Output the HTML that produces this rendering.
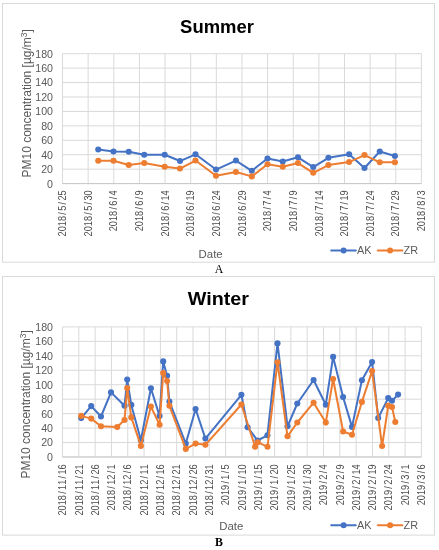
<!DOCTYPE html>
<html lang="en"><head><meta charset="utf-8"><title>PM10 concentration – Summer and Winter</title>
<style>html,body{margin:0;padding:0;background:#fff}svg{display:block}</style></head><body>
<svg width="439" height="550" viewBox="0 0 439 550">
<rect width="439" height="550" fill="#fff"/>
<rect x="2.5" y="3.5" width="432" height="258.7" fill="#fff" stroke="#D9D9D9" stroke-width="1"/>
<text x="217" y="32.5" text-anchor="middle" font-family='"Liberation Sans", Arial, sans-serif' font-weight="700" font-size="19" fill="#000" textLength="73.8" lengthAdjust="spacingAndGlyphs">Summer</text>
<line x1="62.5" x2="421.4" y1="53.70" y2="53.70" stroke="#D9D9D9" stroke-width="1"/>
<text x="53.0" y="57.60" text-anchor="end" font-family='"Liberation Sans", Arial, sans-serif' font-size="10.6" fill="#595959">180</text>
<line x1="62.5" x2="421.4" y1="68.13" y2="68.13" stroke="#D9D9D9" stroke-width="1"/>
<text x="53.0" y="72.03" text-anchor="end" font-family='"Liberation Sans", Arial, sans-serif' font-size="10.6" fill="#595959">160</text>
<line x1="62.5" x2="421.4" y1="82.57" y2="82.57" stroke="#D9D9D9" stroke-width="1"/>
<text x="53.0" y="86.47" text-anchor="end" font-family='"Liberation Sans", Arial, sans-serif' font-size="10.6" fill="#595959">140</text>
<line x1="62.5" x2="421.4" y1="97.00" y2="97.00" stroke="#D9D9D9" stroke-width="1"/>
<text x="53.0" y="100.90" text-anchor="end" font-family='"Liberation Sans", Arial, sans-serif' font-size="10.6" fill="#595959">120</text>
<line x1="62.5" x2="421.4" y1="111.43" y2="111.43" stroke="#D9D9D9" stroke-width="1"/>
<text x="53.0" y="115.33" text-anchor="end" font-family='"Liberation Sans", Arial, sans-serif' font-size="10.6" fill="#595959">100</text>
<line x1="62.5" x2="421.4" y1="125.87" y2="125.87" stroke="#D9D9D9" stroke-width="1"/>
<text x="53.0" y="129.77" text-anchor="end" font-family='"Liberation Sans", Arial, sans-serif' font-size="10.6" fill="#595959">80</text>
<line x1="62.5" x2="421.4" y1="140.30" y2="140.30" stroke="#D9D9D9" stroke-width="1"/>
<text x="53.0" y="144.20" text-anchor="end" font-family='"Liberation Sans", Arial, sans-serif' font-size="10.6" fill="#595959">60</text>
<line x1="62.5" x2="421.4" y1="154.73" y2="154.73" stroke="#D9D9D9" stroke-width="1"/>
<text x="53.0" y="158.63" text-anchor="end" font-family='"Liberation Sans", Arial, sans-serif' font-size="10.6" fill="#595959">40</text>
<line x1="62.5" x2="421.4" y1="169.17" y2="169.17" stroke="#D9D9D9" stroke-width="1"/>
<text x="53.0" y="173.07" text-anchor="end" font-family='"Liberation Sans", Arial, sans-serif' font-size="10.6" fill="#595959">20</text>
<line x1="62.5" x2="421.4" y1="183.60" y2="183.60" stroke="#D9D9D9" stroke-width="1"/>
<text x="53.0" y="187.50" text-anchor="end" font-family='"Liberation Sans", Arial, sans-serif' font-size="10.6" fill="#595959">0</text>
<line x1="62.50" x2="62.50" y1="53.7" y2="183.6" stroke="#D9D9D9" stroke-width="1"/>
<text transform="translate(66.20,236.40) rotate(-90) scale(0.9,1)" x="0.00 5.67 11.33 17.00 24.11 28.44 35.56 39.89 45.56" font-family='"Liberation Sans", Arial, sans-serif' font-size="10.2" fill="#4c4c4c">2018/5/25</text>
<line x1="88.14" x2="88.14" y1="53.7" y2="183.6" stroke="#D9D9D9" stroke-width="1"/>
<text transform="translate(91.84,236.40) rotate(-90) scale(0.9,1)" x="0.00 5.67 11.33 17.00 24.11 28.44 35.56 39.89 45.56" font-family='"Liberation Sans", Arial, sans-serif' font-size="10.2" fill="#4c4c4c">2018/5/30</text>
<line x1="113.77" x2="113.77" y1="53.7" y2="183.6" stroke="#D9D9D9" stroke-width="1"/>
<text transform="translate(117.47,231.30) rotate(-90) scale(0.9,1)" x="0.00 5.67 11.33 17.00 24.11 28.44 35.56 39.89" font-family='"Liberation Sans", Arial, sans-serif' font-size="10.2" fill="#4c4c4c">2018/6/4</text>
<line x1="139.41" x2="139.41" y1="53.7" y2="183.6" stroke="#D9D9D9" stroke-width="1"/>
<text transform="translate(143.11,231.30) rotate(-90) scale(0.9,1)" x="0.00 5.67 11.33 17.00 24.11 28.44 35.56 39.89" font-family='"Liberation Sans", Arial, sans-serif' font-size="10.2" fill="#4c4c4c">2018/6/9</text>
<line x1="165.04" x2="165.04" y1="53.7" y2="183.6" stroke="#D9D9D9" stroke-width="1"/>
<text transform="translate(168.74,236.40) rotate(-90) scale(0.9,1)" x="0.00 5.67 11.33 17.00 24.11 28.44 35.56 39.89 45.56" font-family='"Liberation Sans", Arial, sans-serif' font-size="10.2" fill="#4c4c4c">2018/6/14</text>
<line x1="190.68" x2="190.68" y1="53.7" y2="183.6" stroke="#D9D9D9" stroke-width="1"/>
<text transform="translate(194.38,236.40) rotate(-90) scale(0.9,1)" x="0.00 5.67 11.33 17.00 24.11 28.44 35.56 39.89 45.56" font-family='"Liberation Sans", Arial, sans-serif' font-size="10.2" fill="#4c4c4c">2018/6/19</text>
<line x1="216.31" x2="216.31" y1="53.7" y2="183.6" stroke="#D9D9D9" stroke-width="1"/>
<text transform="translate(220.01,236.40) rotate(-90) scale(0.9,1)" x="0.00 5.67 11.33 17.00 24.11 28.44 35.56 39.89 45.56" font-family='"Liberation Sans", Arial, sans-serif' font-size="10.2" fill="#4c4c4c">2018/6/24</text>
<line x1="241.95" x2="241.95" y1="53.7" y2="183.6" stroke="#D9D9D9" stroke-width="1"/>
<text transform="translate(245.65,236.40) rotate(-90) scale(0.9,1)" x="0.00 5.67 11.33 17.00 24.11 28.44 35.56 39.89 45.56" font-family='"Liberation Sans", Arial, sans-serif' font-size="10.2" fill="#4c4c4c">2018/6/29</text>
<line x1="267.59" x2="267.59" y1="53.7" y2="183.6" stroke="#D9D9D9" stroke-width="1"/>
<text transform="translate(271.29,231.30) rotate(-90) scale(0.9,1)" x="0.00 5.67 11.33 17.00 24.11 28.44 35.56 39.89" font-family='"Liberation Sans", Arial, sans-serif' font-size="10.2" fill="#4c4c4c">2018/7/4</text>
<line x1="293.22" x2="293.22" y1="53.7" y2="183.6" stroke="#D9D9D9" stroke-width="1"/>
<text transform="translate(296.92,231.30) rotate(-90) scale(0.9,1)" x="0.00 5.67 11.33 17.00 24.11 28.44 35.56 39.89" font-family='"Liberation Sans", Arial, sans-serif' font-size="10.2" fill="#4c4c4c">2018/7/9</text>
<line x1="318.86" x2="318.86" y1="53.7" y2="183.6" stroke="#D9D9D9" stroke-width="1"/>
<text transform="translate(322.56,236.40) rotate(-90) scale(0.9,1)" x="0.00 5.67 11.33 17.00 24.11 28.44 35.56 39.89 45.56" font-family='"Liberation Sans", Arial, sans-serif' font-size="10.2" fill="#4c4c4c">2018/7/14</text>
<line x1="344.49" x2="344.49" y1="53.7" y2="183.6" stroke="#D9D9D9" stroke-width="1"/>
<text transform="translate(348.19,236.40) rotate(-90) scale(0.9,1)" x="0.00 5.67 11.33 17.00 24.11 28.44 35.56 39.89 45.56" font-family='"Liberation Sans", Arial, sans-serif' font-size="10.2" fill="#4c4c4c">2018/7/19</text>
<line x1="370.13" x2="370.13" y1="53.7" y2="183.6" stroke="#D9D9D9" stroke-width="1"/>
<text transform="translate(373.83,236.40) rotate(-90) scale(0.9,1)" x="0.00 5.67 11.33 17.00 24.11 28.44 35.56 39.89 45.56" font-family='"Liberation Sans", Arial, sans-serif' font-size="10.2" fill="#4c4c4c">2018/7/24</text>
<line x1="395.76" x2="395.76" y1="53.7" y2="183.6" stroke="#D9D9D9" stroke-width="1"/>
<text transform="translate(399.46,236.40) rotate(-90) scale(0.9,1)" x="0.00 5.67 11.33 17.00 24.11 28.44 35.56 39.89 45.56" font-family='"Liberation Sans", Arial, sans-serif' font-size="10.2" fill="#4c4c4c">2018/7/29</text>
<line x1="421.40" x2="421.40" y1="53.7" y2="183.6" stroke="#D9D9D9" stroke-width="1"/>
<text transform="translate(425.10,231.30) rotate(-90) scale(0.9,1)" x="0.00 5.67 11.33 17.00 24.11 28.44 35.56 39.89" font-family='"Liberation Sans", Arial, sans-serif' font-size="10.2" fill="#4c4c4c">2018/8/3</text>
<line x1="62.5" x2="421.4" y1="183.6" y2="183.6" stroke="#C8C8C8" stroke-width="1"/>
<text transform="translate(31.4,103.3) rotate(-90)" text-anchor="middle" font-family='"Liberation Sans", Arial, sans-serif' font-size="12" fill="#595959">PM10 concentration [µg/m<tspan dy="-4" font-size="8.5">3</tspan><tspan dy="4">]</tspan></text>
<text x="198.6" y="258.1" font-family='"Liberation Sans", Arial, sans-serif' font-size="11.4" fill="#595959">Date</text>
<polyline points="98.25,149.55 113.50,151.55 128.75,151.80 144.25,154.80 164.70,154.80 180.00,161.05 195.50,154.30 216.00,169.55 235.90,160.55 251.80,170.80 267.50,158.55 282.75,161.55 298.00,157.30 313.25,167.05 328.40,157.80 349.10,154.20 364.50,168.05 379.75,151.55 394.90,156.05" fill="none" stroke="#4472C4" stroke-width="2.0" stroke-linejoin="round" stroke-linecap="round"/>
<circle cx="98.25" cy="149.55" r="3.05" fill="#4472C4"/>
<circle cx="113.50" cy="151.55" r="3.05" fill="#4472C4"/>
<circle cx="128.75" cy="151.80" r="3.05" fill="#4472C4"/>
<circle cx="144.25" cy="154.80" r="3.05" fill="#4472C4"/>
<circle cx="164.70" cy="154.80" r="3.05" fill="#4472C4"/>
<circle cx="180.00" cy="161.05" r="3.05" fill="#4472C4"/>
<circle cx="195.50" cy="154.30" r="3.05" fill="#4472C4"/>
<circle cx="216.00" cy="169.55" r="3.05" fill="#4472C4"/>
<circle cx="235.90" cy="160.55" r="3.05" fill="#4472C4"/>
<circle cx="251.80" cy="170.80" r="3.05" fill="#4472C4"/>
<circle cx="267.50" cy="158.55" r="3.05" fill="#4472C4"/>
<circle cx="282.75" cy="161.55" r="3.05" fill="#4472C4"/>
<circle cx="298.00" cy="157.30" r="3.05" fill="#4472C4"/>
<circle cx="313.25" cy="167.05" r="3.05" fill="#4472C4"/>
<circle cx="328.40" cy="157.80" r="3.05" fill="#4472C4"/>
<circle cx="349.10" cy="154.20" r="3.05" fill="#4472C4"/>
<circle cx="364.50" cy="168.05" r="3.05" fill="#4472C4"/>
<circle cx="379.75" cy="151.55" r="3.05" fill="#4472C4"/>
<circle cx="394.90" cy="156.05" r="3.05" fill="#4472C4"/>
<polyline points="98.25,160.80 113.50,160.80 128.75,165.05 144.25,163.05 164.70,166.80 180.00,168.55 195.50,160.55 216.00,175.80 235.90,172.05 251.80,176.40 267.50,164.30 282.75,166.80 298.00,163.05 313.25,172.80 328.40,165.05 349.10,162.05 364.50,155.05 379.75,162.30 394.90,162.30" fill="none" stroke="#ED7D31" stroke-width="2.0" stroke-linejoin="round" stroke-linecap="round"/>
<circle cx="98.25" cy="160.80" r="3.05" fill="#ED7D31"/>
<circle cx="113.50" cy="160.80" r="3.05" fill="#ED7D31"/>
<circle cx="128.75" cy="165.05" r="3.05" fill="#ED7D31"/>
<circle cx="144.25" cy="163.05" r="3.05" fill="#ED7D31"/>
<circle cx="164.70" cy="166.80" r="3.05" fill="#ED7D31"/>
<circle cx="180.00" cy="168.55" r="3.05" fill="#ED7D31"/>
<circle cx="195.50" cy="160.55" r="3.05" fill="#ED7D31"/>
<circle cx="216.00" cy="175.80" r="3.05" fill="#ED7D31"/>
<circle cx="235.90" cy="172.05" r="3.05" fill="#ED7D31"/>
<circle cx="251.80" cy="176.40" r="3.05" fill="#ED7D31"/>
<circle cx="267.50" cy="164.30" r="3.05" fill="#ED7D31"/>
<circle cx="282.75" cy="166.80" r="3.05" fill="#ED7D31"/>
<circle cx="298.00" cy="163.05" r="3.05" fill="#ED7D31"/>
<circle cx="313.25" cy="172.80" r="3.05" fill="#ED7D31"/>
<circle cx="328.40" cy="165.05" r="3.05" fill="#ED7D31"/>
<circle cx="349.10" cy="162.05" r="3.05" fill="#ED7D31"/>
<circle cx="364.50" cy="155.05" r="3.05" fill="#ED7D31"/>
<circle cx="379.75" cy="162.30" r="3.05" fill="#ED7D31"/>
<circle cx="394.90" cy="162.30" r="3.05" fill="#ED7D31"/>
<line x1="331.2" x2="355.8" y1="250.5" y2="250.5" stroke="#4472C4" stroke-width="2.0" stroke-linecap="round"/><circle cx="343.6" cy="250.5" r="3.0" fill="#4472C4"/>
<text x="357" y="254.4" font-family='"Liberation Sans", Arial, sans-serif' font-size="10.9" fill="#595959">AK</text>
<line x1="377.8" x2="402.4" y1="250.5" y2="250.5" stroke="#ED7D31" stroke-width="2.0" stroke-linecap="round"/><circle cx="390.1" cy="250.5" r="3.0" fill="#ED7D31"/>
<text x="403.6" y="254.4" font-family='"Liberation Sans", Arial, sans-serif' font-size="10.9" fill="#595959">ZR</text>
<text x="219" y="273.2" text-anchor="middle" font-family='"Liberation Serif", "Times New Roman", serif' font-size="11.8" fill="#000">A</text>
<rect x="2.5" y="276.5" width="432" height="258.6" fill="#fff" stroke="#D9D9D9" stroke-width="1"/>
<text x="218.4" y="305.1" text-anchor="middle" font-family='"Liberation Sans", Arial, sans-serif' font-weight="700" font-size="19" fill="#000" textLength="61.2" lengthAdjust="spacingAndGlyphs">Winter</text>
<line x1="62.5" x2="421.4" y1="326.90" y2="326.90" stroke="#D9D9D9" stroke-width="1"/>
<text x="53.0" y="330.80" text-anchor="end" font-family='"Liberation Sans", Arial, sans-serif' font-size="10.6" fill="#595959">180</text>
<line x1="62.5" x2="421.4" y1="341.36" y2="341.36" stroke="#D9D9D9" stroke-width="1"/>
<text x="53.0" y="345.26" text-anchor="end" font-family='"Liberation Sans", Arial, sans-serif' font-size="10.6" fill="#595959">160</text>
<line x1="62.5" x2="421.4" y1="355.81" y2="355.81" stroke="#D9D9D9" stroke-width="1"/>
<text x="53.0" y="359.71" text-anchor="end" font-family='"Liberation Sans", Arial, sans-serif' font-size="10.6" fill="#595959">140</text>
<line x1="62.5" x2="421.4" y1="370.27" y2="370.27" stroke="#D9D9D9" stroke-width="1"/>
<text x="53.0" y="374.17" text-anchor="end" font-family='"Liberation Sans", Arial, sans-serif' font-size="10.6" fill="#595959">120</text>
<line x1="62.5" x2="421.4" y1="384.72" y2="384.72" stroke="#D9D9D9" stroke-width="1"/>
<text x="53.0" y="388.62" text-anchor="end" font-family='"Liberation Sans", Arial, sans-serif' font-size="10.6" fill="#595959">100</text>
<line x1="62.5" x2="421.4" y1="399.18" y2="399.18" stroke="#D9D9D9" stroke-width="1"/>
<text x="53.0" y="403.08" text-anchor="end" font-family='"Liberation Sans", Arial, sans-serif' font-size="10.6" fill="#595959">80</text>
<line x1="62.5" x2="421.4" y1="413.63" y2="413.63" stroke="#D9D9D9" stroke-width="1"/>
<text x="53.0" y="417.53" text-anchor="end" font-family='"Liberation Sans", Arial, sans-serif' font-size="10.6" fill="#595959">60</text>
<line x1="62.5" x2="421.4" y1="428.09" y2="428.09" stroke="#D9D9D9" stroke-width="1"/>
<text x="53.0" y="431.99" text-anchor="end" font-family='"Liberation Sans", Arial, sans-serif' font-size="10.6" fill="#595959">40</text>
<line x1="62.5" x2="421.4" y1="442.54" y2="442.54" stroke="#D9D9D9" stroke-width="1"/>
<text x="53.0" y="446.44" text-anchor="end" font-family='"Liberation Sans", Arial, sans-serif' font-size="10.6" fill="#595959">20</text>
<line x1="62.5" x2="421.4" y1="457.00" y2="457.00" stroke="#D9D9D9" stroke-width="1"/>
<text x="53.0" y="460.90" text-anchor="end" font-family='"Liberation Sans", Arial, sans-serif' font-size="10.6" fill="#595959">0</text>
<line x1="62.50" x2="62.50" y1="326.9" y2="457.0" stroke="#D9D9D9" stroke-width="1"/>
<text transform="translate(66.20,515.50) rotate(-90) scale(0.9,1)" x="0.00 5.67 11.33 17.00 24.11 28.44 34.11 41.22 45.56 51.22" font-family='"Liberation Sans", Arial, sans-serif' font-size="10.2" fill="#4c4c4c">2018/11/16</text>
<line x1="78.81" x2="78.81" y1="326.9" y2="457.0" stroke="#D9D9D9" stroke-width="1"/>
<text transform="translate(82.51,515.50) rotate(-90) scale(0.9,1)" x="0.00 5.67 11.33 17.00 24.11 28.44 34.11 41.22 45.56 51.22" font-family='"Liberation Sans", Arial, sans-serif' font-size="10.2" fill="#4c4c4c">2018/11/21</text>
<line x1="95.13" x2="95.13" y1="326.9" y2="457.0" stroke="#D9D9D9" stroke-width="1"/>
<text transform="translate(98.83,515.50) rotate(-90) scale(0.9,1)" x="0.00 5.67 11.33 17.00 24.11 28.44 34.11 41.22 45.56 51.22" font-family='"Liberation Sans", Arial, sans-serif' font-size="10.2" fill="#4c4c4c">2018/11/26</text>
<line x1="111.44" x2="111.44" y1="326.9" y2="457.0" stroke="#D9D9D9" stroke-width="1"/>
<text transform="translate(115.14,510.40) rotate(-90) scale(0.9,1)" x="0.00 5.67 11.33 17.00 24.11 28.44 34.11 41.22 45.56" font-family='"Liberation Sans", Arial, sans-serif' font-size="10.2" fill="#4c4c4c">2018/12/1</text>
<line x1="127.75" x2="127.75" y1="326.9" y2="457.0" stroke="#D9D9D9" stroke-width="1"/>
<text transform="translate(131.45,510.40) rotate(-90) scale(0.9,1)" x="0.00 5.67 11.33 17.00 24.11 28.44 34.11 41.22 45.56" font-family='"Liberation Sans", Arial, sans-serif' font-size="10.2" fill="#4c4c4c">2018/12/6</text>
<line x1="144.07" x2="144.07" y1="326.9" y2="457.0" stroke="#D9D9D9" stroke-width="1"/>
<text transform="translate(147.77,515.50) rotate(-90) scale(0.9,1)" x="0.00 5.67 11.33 17.00 24.11 28.44 34.11 41.22 45.56 51.22" font-family='"Liberation Sans", Arial, sans-serif' font-size="10.2" fill="#4c4c4c">2018/12/11</text>
<line x1="160.38" x2="160.38" y1="326.9" y2="457.0" stroke="#D9D9D9" stroke-width="1"/>
<text transform="translate(164.08,515.50) rotate(-90) scale(0.9,1)" x="0.00 5.67 11.33 17.00 24.11 28.44 34.11 41.22 45.56 51.22" font-family='"Liberation Sans", Arial, sans-serif' font-size="10.2" fill="#4c4c4c">2018/12/16</text>
<line x1="176.70" x2="176.70" y1="326.9" y2="457.0" stroke="#D9D9D9" stroke-width="1"/>
<text transform="translate(180.40,515.50) rotate(-90) scale(0.9,1)" x="0.00 5.67 11.33 17.00 24.11 28.44 34.11 41.22 45.56 51.22" font-family='"Liberation Sans", Arial, sans-serif' font-size="10.2" fill="#4c4c4c">2018/12/21</text>
<line x1="193.01" x2="193.01" y1="326.9" y2="457.0" stroke="#D9D9D9" stroke-width="1"/>
<text transform="translate(196.71,515.50) rotate(-90) scale(0.9,1)" x="0.00 5.67 11.33 17.00 24.11 28.44 34.11 41.22 45.56 51.22" font-family='"Liberation Sans", Arial, sans-serif' font-size="10.2" fill="#4c4c4c">2018/12/26</text>
<line x1="209.32" x2="209.32" y1="326.9" y2="457.0" stroke="#D9D9D9" stroke-width="1"/>
<text transform="translate(213.02,515.50) rotate(-90) scale(0.9,1)" x="0.00 5.67 11.33 17.00 24.11 28.44 34.11 41.22 45.56 51.22" font-family='"Liberation Sans", Arial, sans-serif' font-size="10.2" fill="#4c4c4c">2018/12/31</text>
<line x1="225.64" x2="225.64" y1="326.9" y2="457.0" stroke="#D9D9D9" stroke-width="1"/>
<text transform="translate(229.34,505.30) rotate(-90) scale(0.9,1)" x="0.00 5.67 11.33 17.00 24.11 28.44 35.56 39.89" font-family='"Liberation Sans", Arial, sans-serif' font-size="10.2" fill="#4c4c4c">2019/1/5</text>
<line x1="241.95" x2="241.95" y1="326.9" y2="457.0" stroke="#D9D9D9" stroke-width="1"/>
<text transform="translate(245.65,510.40) rotate(-90) scale(0.9,1)" x="0.00 5.67 11.33 17.00 24.11 28.44 35.56 39.89 45.56" font-family='"Liberation Sans", Arial, sans-serif' font-size="10.2" fill="#4c4c4c">2019/1/10</text>
<line x1="258.26" x2="258.26" y1="326.9" y2="457.0" stroke="#D9D9D9" stroke-width="1"/>
<text transform="translate(261.96,510.40) rotate(-90) scale(0.9,1)" x="0.00 5.67 11.33 17.00 24.11 28.44 35.56 39.89 45.56" font-family='"Liberation Sans", Arial, sans-serif' font-size="10.2" fill="#4c4c4c">2019/1/15</text>
<line x1="274.58" x2="274.58" y1="326.9" y2="457.0" stroke="#D9D9D9" stroke-width="1"/>
<text transform="translate(278.28,510.40) rotate(-90) scale(0.9,1)" x="0.00 5.67 11.33 17.00 24.11 28.44 35.56 39.89 45.56" font-family='"Liberation Sans", Arial, sans-serif' font-size="10.2" fill="#4c4c4c">2019/1/20</text>
<line x1="290.89" x2="290.89" y1="326.9" y2="457.0" stroke="#D9D9D9" stroke-width="1"/>
<text transform="translate(294.59,510.40) rotate(-90) scale(0.9,1)" x="0.00 5.67 11.33 17.00 24.11 28.44 35.56 39.89 45.56" font-family='"Liberation Sans", Arial, sans-serif' font-size="10.2" fill="#4c4c4c">2019/1/25</text>
<line x1="307.20" x2="307.20" y1="326.9" y2="457.0" stroke="#D9D9D9" stroke-width="1"/>
<text transform="translate(310.90,510.40) rotate(-90) scale(0.9,1)" x="0.00 5.67 11.33 17.00 24.11 28.44 35.56 39.89 45.56" font-family='"Liberation Sans", Arial, sans-serif' font-size="10.2" fill="#4c4c4c">2019/1/30</text>
<line x1="323.52" x2="323.52" y1="326.9" y2="457.0" stroke="#D9D9D9" stroke-width="1"/>
<text transform="translate(327.22,505.30) rotate(-90) scale(0.9,1)" x="0.00 5.67 11.33 17.00 24.11 28.44 35.56 39.89" font-family='"Liberation Sans", Arial, sans-serif' font-size="10.2" fill="#4c4c4c">2019/2/4</text>
<line x1="339.83" x2="339.83" y1="326.9" y2="457.0" stroke="#D9D9D9" stroke-width="1"/>
<text transform="translate(343.53,505.30) rotate(-90) scale(0.9,1)" x="0.00 5.67 11.33 17.00 24.11 28.44 35.56 39.89" font-family='"Liberation Sans", Arial, sans-serif' font-size="10.2" fill="#4c4c4c">2019/2/9</text>
<line x1="356.15" x2="356.15" y1="326.9" y2="457.0" stroke="#D9D9D9" stroke-width="1"/>
<text transform="translate(359.85,510.40) rotate(-90) scale(0.9,1)" x="0.00 5.67 11.33 17.00 24.11 28.44 35.56 39.89 45.56" font-family='"Liberation Sans", Arial, sans-serif' font-size="10.2" fill="#4c4c4c">2019/2/14</text>
<line x1="372.46" x2="372.46" y1="326.9" y2="457.0" stroke="#D9D9D9" stroke-width="1"/>
<text transform="translate(376.16,510.40) rotate(-90) scale(0.9,1)" x="0.00 5.67 11.33 17.00 24.11 28.44 35.56 39.89 45.56" font-family='"Liberation Sans", Arial, sans-serif' font-size="10.2" fill="#4c4c4c">2019/2/19</text>
<line x1="388.77" x2="388.77" y1="326.9" y2="457.0" stroke="#D9D9D9" stroke-width="1"/>
<text transform="translate(392.47,510.40) rotate(-90) scale(0.9,1)" x="0.00 5.67 11.33 17.00 24.11 28.44 35.56 39.89 45.56" font-family='"Liberation Sans", Arial, sans-serif' font-size="10.2" fill="#4c4c4c">2019/2/24</text>
<line x1="405.09" x2="405.09" y1="326.9" y2="457.0" stroke="#D9D9D9" stroke-width="1"/>
<text transform="translate(408.79,505.30) rotate(-90) scale(0.9,1)" x="0.00 5.67 11.33 17.00 24.11 28.44 35.56 39.89" font-family='"Liberation Sans", Arial, sans-serif' font-size="10.2" fill="#4c4c4c">2019/3/1</text>
<line x1="421.40" x2="421.40" y1="326.9" y2="457.0" stroke="#D9D9D9" stroke-width="1"/>
<text transform="translate(425.10,505.30) rotate(-90) scale(0.9,1)" x="0.00 5.67 11.33 17.00 24.11 28.44 35.56 39.89" font-family='"Liberation Sans", Arial, sans-serif' font-size="10.2" fill="#4c4c4c">2019/3/6</text>
<line x1="62.5" x2="421.4" y1="457.0" y2="457.0" stroke="#C8C8C8" stroke-width="1"/>
<text transform="translate(29.7,404.4) rotate(-90)" text-anchor="middle" font-family='"Liberation Sans", Arial, sans-serif' font-size="12" fill="#595959">PM10 concentration [µg/m<tspan dy="-4" font-size="8.5">3</tspan><tspan dy="4">]</tspan></text>
<text x="219.2" y="530" font-family='"Liberation Sans", Arial, sans-serif' font-size="11.4" fill="#595959">Date</text>
<polyline points="81.20,418.10 91.20,406.10 101.00,416.50 111.00,392.40 124.50,405.80 127.20,379.60 131.30,404.90 140.90,440.20 150.90,388.30 159.60,416.10 163.20,361.40 167.10,375.80 169.40,401.50 185.80,443.60 195.60,409.00 205.40,438.60 241.40,394.80 247.60,427.20 257.50,440.50 267.40,435.30 277.50,343.40 287.50,426.30 297.30,403.50 313.60,380.00 325.80,404.70 333.10,356.90 343.10,397.10 352.00,426.90 361.90,380.30 372.10,362.00 378.20,418.00 388.20,398.10 392.00,400.70 398.10,394.60" fill="none" stroke="#4472C4" stroke-width="2.0" stroke-linejoin="round" stroke-linecap="round"/>
<circle cx="81.20" cy="418.10" r="3.05" fill="#4472C4"/>
<circle cx="91.20" cy="406.10" r="3.05" fill="#4472C4"/>
<circle cx="101.00" cy="416.50" r="3.05" fill="#4472C4"/>
<circle cx="111.00" cy="392.40" r="3.05" fill="#4472C4"/>
<circle cx="124.50" cy="405.80" r="3.05" fill="#4472C4"/>
<circle cx="127.20" cy="379.60" r="3.05" fill="#4472C4"/>
<circle cx="131.30" cy="404.90" r="3.05" fill="#4472C4"/>
<circle cx="140.90" cy="440.20" r="3.05" fill="#4472C4"/>
<circle cx="150.90" cy="388.30" r="3.05" fill="#4472C4"/>
<circle cx="159.60" cy="416.10" r="3.05" fill="#4472C4"/>
<circle cx="163.20" cy="361.40" r="3.05" fill="#4472C4"/>
<circle cx="167.10" cy="375.80" r="3.05" fill="#4472C4"/>
<circle cx="169.40" cy="401.50" r="3.05" fill="#4472C4"/>
<circle cx="185.80" cy="443.60" r="3.05" fill="#4472C4"/>
<circle cx="195.60" cy="409.00" r="3.05" fill="#4472C4"/>
<circle cx="205.40" cy="438.60" r="3.05" fill="#4472C4"/>
<circle cx="241.40" cy="394.80" r="3.05" fill="#4472C4"/>
<circle cx="247.60" cy="427.20" r="3.05" fill="#4472C4"/>
<circle cx="257.50" cy="440.50" r="3.05" fill="#4472C4"/>
<circle cx="267.40" cy="435.30" r="3.05" fill="#4472C4"/>
<circle cx="277.50" cy="343.40" r="3.05" fill="#4472C4"/>
<circle cx="287.50" cy="426.30" r="3.05" fill="#4472C4"/>
<circle cx="297.30" cy="403.50" r="3.05" fill="#4472C4"/>
<circle cx="313.60" cy="380.00" r="3.05" fill="#4472C4"/>
<circle cx="325.80" cy="404.70" r="3.05" fill="#4472C4"/>
<circle cx="333.10" cy="356.90" r="3.05" fill="#4472C4"/>
<circle cx="343.10" cy="397.10" r="3.05" fill="#4472C4"/>
<circle cx="352.00" cy="426.90" r="3.05" fill="#4472C4"/>
<circle cx="361.90" cy="380.30" r="3.05" fill="#4472C4"/>
<circle cx="372.10" cy="362.00" r="3.05" fill="#4472C4"/>
<circle cx="378.20" cy="418.00" r="3.05" fill="#4472C4"/>
<circle cx="388.20" cy="398.10" r="3.05" fill="#4472C4"/>
<circle cx="392.00" cy="400.70" r="3.05" fill="#4472C4"/>
<circle cx="398.10" cy="394.60" r="3.05" fill="#4472C4"/>
<polyline points="81.20,415.90 91.20,418.60 101.00,426.30 117.20,427.00 124.50,420.00 127.20,388.10 131.30,417.40 140.90,445.90 150.90,406.60 159.60,424.70 163.20,373.00 167.10,381.00 169.40,405.80 185.80,448.90 195.60,443.60 205.40,444.80 241.40,404.50 255.10,446.70 257.80,442.20 267.50,446.80 277.50,362.20 287.50,436.30 297.30,422.50 313.60,402.70 325.80,422.60 333.10,379.00 343.10,431.50 352.00,434.80 361.90,401.90 372.10,371.10 382.10,446.00 388.20,405.80 392.00,407.00 395.30,422.00" fill="none" stroke="#ED7D31" stroke-width="2.0" stroke-linejoin="round" stroke-linecap="round"/>
<circle cx="81.20" cy="415.90" r="3.05" fill="#ED7D31"/>
<circle cx="91.20" cy="418.60" r="3.05" fill="#ED7D31"/>
<circle cx="101.00" cy="426.30" r="3.05" fill="#ED7D31"/>
<circle cx="117.20" cy="427.00" r="3.05" fill="#ED7D31"/>
<circle cx="124.50" cy="420.00" r="3.05" fill="#ED7D31"/>
<circle cx="127.20" cy="388.10" r="3.05" fill="#ED7D31"/>
<circle cx="131.30" cy="417.40" r="3.05" fill="#ED7D31"/>
<circle cx="140.90" cy="445.90" r="3.05" fill="#ED7D31"/>
<circle cx="150.90" cy="406.60" r="3.05" fill="#ED7D31"/>
<circle cx="159.60" cy="424.70" r="3.05" fill="#ED7D31"/>
<circle cx="163.20" cy="373.00" r="3.05" fill="#ED7D31"/>
<circle cx="167.10" cy="381.00" r="3.05" fill="#ED7D31"/>
<circle cx="169.40" cy="405.80" r="3.05" fill="#ED7D31"/>
<circle cx="185.80" cy="448.90" r="3.05" fill="#ED7D31"/>
<circle cx="195.60" cy="443.60" r="3.05" fill="#ED7D31"/>
<circle cx="205.40" cy="444.80" r="3.05" fill="#ED7D31"/>
<circle cx="241.40" cy="404.50" r="3.05" fill="#ED7D31"/>
<circle cx="255.10" cy="446.70" r="3.05" fill="#ED7D31"/>
<circle cx="257.80" cy="442.20" r="3.05" fill="#ED7D31"/>
<circle cx="267.50" cy="446.80" r="3.05" fill="#ED7D31"/>
<circle cx="277.50" cy="362.20" r="3.05" fill="#ED7D31"/>
<circle cx="287.50" cy="436.30" r="3.05" fill="#ED7D31"/>
<circle cx="297.30" cy="422.50" r="3.05" fill="#ED7D31"/>
<circle cx="313.60" cy="402.70" r="3.05" fill="#ED7D31"/>
<circle cx="325.80" cy="422.60" r="3.05" fill="#ED7D31"/>
<circle cx="333.10" cy="379.00" r="3.05" fill="#ED7D31"/>
<circle cx="343.10" cy="431.50" r="3.05" fill="#ED7D31"/>
<circle cx="352.00" cy="434.80" r="3.05" fill="#ED7D31"/>
<circle cx="361.90" cy="401.90" r="3.05" fill="#ED7D31"/>
<circle cx="372.10" cy="371.10" r="3.05" fill="#ED7D31"/>
<circle cx="382.10" cy="446.00" r="3.05" fill="#ED7D31"/>
<circle cx="388.20" cy="405.80" r="3.05" fill="#ED7D31"/>
<circle cx="392.00" cy="407.00" r="3.05" fill="#ED7D31"/>
<circle cx="395.30" cy="422.00" r="3.05" fill="#ED7D31"/>
<line x1="331.2" x2="355.8" y1="525.2" y2="525.2" stroke="#4472C4" stroke-width="2.0" stroke-linecap="round"/><circle cx="343.6" cy="525.2" r="3.0" fill="#4472C4"/>
<text x="357" y="529.1" font-family='"Liberation Sans", Arial, sans-serif' font-size="10.9" fill="#595959">AK</text>
<line x1="377.8" x2="402.4" y1="525.2" y2="525.2" stroke="#ED7D31" stroke-width="2.0" stroke-linecap="round"/><circle cx="390.1" cy="525.2" r="3.0" fill="#ED7D31"/>
<text x="403.6" y="529.1" font-family='"Liberation Sans", Arial, sans-serif' font-size="10.9" fill="#595959">ZR</text>
<text x="219" y="545.9" text-anchor="middle" font-family='"Liberation Serif", "Times New Roman", serif' font-size="11.8" font-weight="700" fill="#000">B</text>
</svg></body></html>
